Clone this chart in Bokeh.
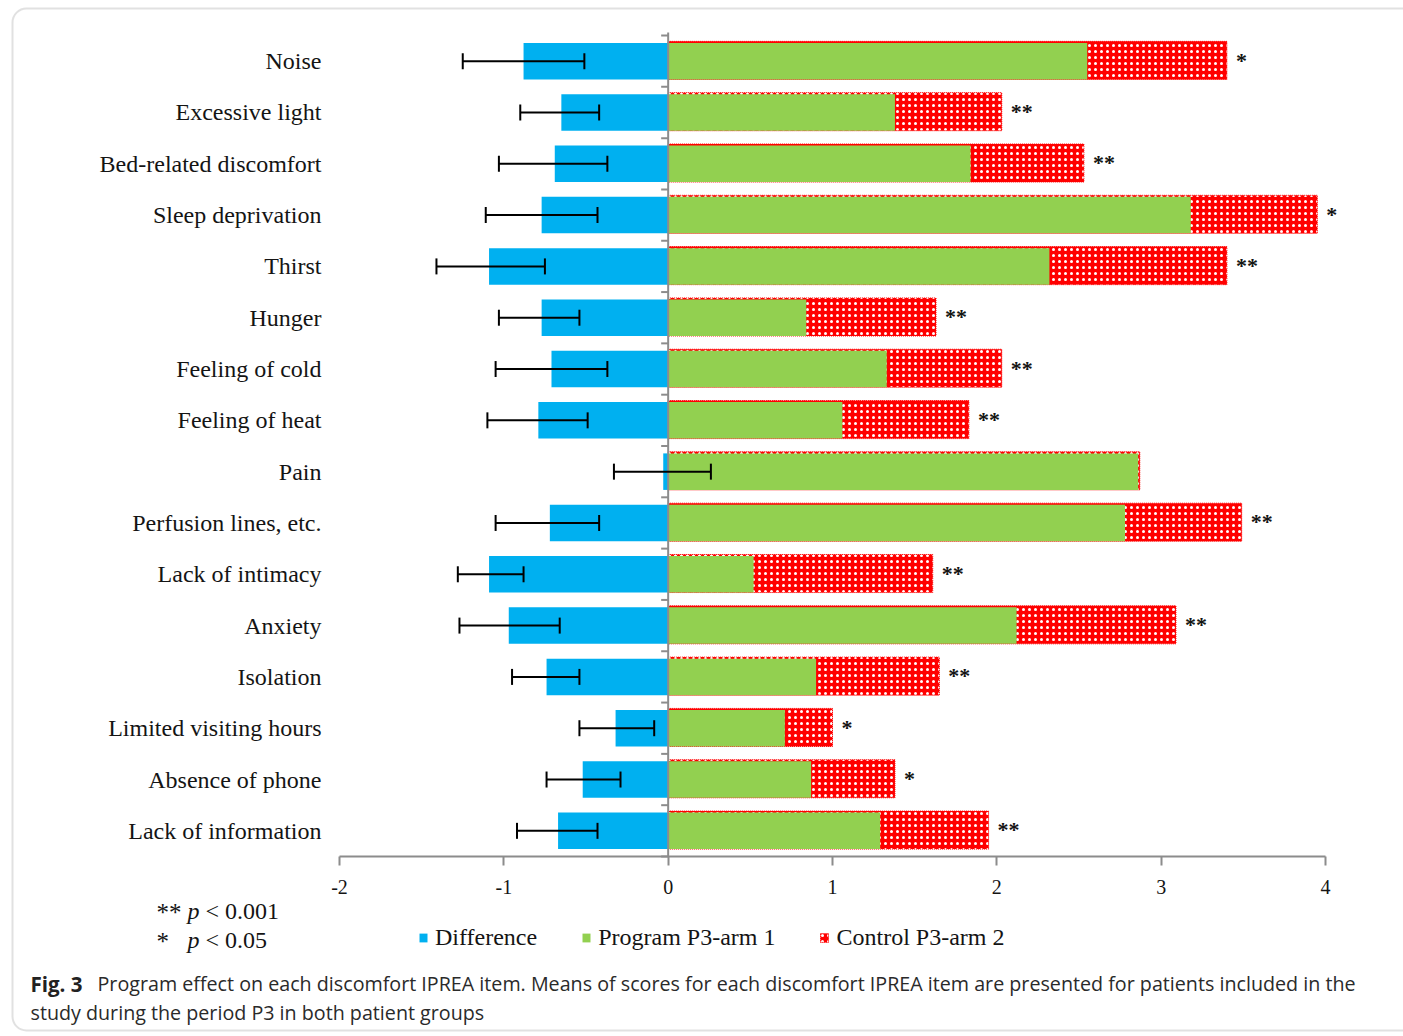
from bokeh.plotting import figure
from bokeh.models import (ColumnDataSource, Range1d, FixedTicker, LinearAxis,
                          Whisker, TeeHead, Legend, LegendItem, Label, BoxAnnotation)
from bokeh.core.properties import value
from bokeh.embed import file_html
from bokeh.resources import INLINE

# IPREA discomfort items, top to bottom
items = ["Noise", "Excessive light", "Bed-related discomfort", "Sleep deprivation",
         "Thirst", "Hunger", "Feeling of cold", "Feeling of heat", "Pain",
         "Perfusion lines, etc.", "Lack of intimacy", "Anxiety", "Isolation",
         "Limited visiting hours", "Absence of phone", "Lack of information"]

# mean scores, period P3
program = [2.55, 1.38, 1.84, 3.18, 2.32, 0.84, 1.33, 1.06, 2.86, 2.78,
           0.52, 2.12, 0.90, 0.71, 0.87, 1.29]
control = [3.40, 2.03, 2.53, 3.95, 3.40, 1.63, 2.03, 1.83, 2.87, 3.49,
           1.61, 3.09, 1.65, 1.00, 1.38, 1.95]
difference = [-0.88, -0.65, -0.69, -0.77, -1.09, -0.77, -0.71, -0.79, -0.03, -0.72,
              -1.09, -0.97, -0.74, -0.32, -0.52, -0.67]
ci_low = [-1.25, -0.90, -1.03, -1.11, -1.41, -1.03, -1.05, -1.10, -0.33, -1.05,
          -1.28, -1.27, -0.95, -0.54, -0.74, -0.92]
ci_high = [-0.51, -0.42, -0.37, -0.43, -0.75, -0.54, -0.37, -0.49, 0.26, -0.42,
           -0.88, -0.66, -0.54, -0.085, -0.29, -0.43]
significance = ["*", "**", "**", "*", "**", "**", "**", "**", "", "**",
                "**", "**", "**", "*", "*", "**"]

x_ticks = [-2, -1, 0, 1, 2, 3, 4]
x_tick_labels = {-2: "-2", -1: "-1", 0: "0", 1: "1", 2: "2", 3: "3", 4: "4"}

BLUE = "#00b0f0"
GREEN = "#92d050"
RED = "#ff0000"
GREY = "#8c8c8c"
SERIF = "Liberation Serif"
INK = "#141414"

W, H = 1403, 1036
n = len(items)
# one band per item, first item on top
row = [n - i - 0.5 for i in range(n)]

src = ColumnDataSource(dict(
    item=items, row=row, ctl_row=[r + 0.015 for r in row],
    program=program, control=control, difference=difference,
    lo=ci_low, hi=ci_high, sig=significance,
))

# plot frame fills the canvas; the axes are pinned inside it
PX_X = 986 / 6.0          # pixels per score unit
PX_Y = 821 / n            # pixels per item band
x_start = -2 - 339 / PX_X
x_end = 4 + (W - 1325) / PX_X
y_start = -(H - 856) / PX_Y
y_end = n + 35 / PX_Y

p = figure(width=W, height=H,
           x_range=Range1d(x_start, x_end), y_range=Range1d(y_start, y_end),
           x_axis_location=None, y_axis_location=None,
           output_backend="svg", toolbar_location=None, min_border=0,
           outline_line_color=None, background_fill_color="white",
           border_fill_color="white")
p.xgrid.visible = False
p.ygrid.visible = False

# control arm sits behind the program arm
r_ctl = p.hbar(y="ctl_row", left=0, right="control", height=0.742, source=src,
               fill_color=RED, hatch_pattern="dot", hatch_color="white",
               hatch_scale=6, hatch_weight=2.0,
               line_color=RED, line_dash="1 1", line_width=1)
r_prog = p.hbar(y="row", left=0, right="program", height=0.712, source=src,
                fill_color=GREEN, line_color=None)
r_diff = p.hbar(y="row", left=0, right="difference", height=0.712, source=src,
                fill_color=BLUE, line_color=None)

# zero line with short ticks between the bands
bounds = list(range(n + 1))
tick_len = 7 / PX_X
p.segment(x0=0, x1=0, y0=0, y1=n + 3 / PX_Y, line_color=GREY, line_width=2)
p.segment(x0=-tick_len, x1=0, y0=bounds, y1=bounds, line_color=GREY, line_width=2)

# error bars on the difference
p.add_layout(Whisker(base="row", lower="lo", upper="hi", dimension="width", source=src,
                     line_color="black", line_width=2, level="annotation",
                     lower_head=TeeHead(size=16, line_color="black", line_width=2),
                     upper_head=TeeHead(size=16, line_color="black", line_width=2)))

# significance markers
p.text(x="control", y="row", text="sig", source=src, x_offset=9, y_offset=-1,
       text_align="left", text_baseline="middle",
       text_font=value(SERIF), text_font_size="22px", text_color=INK,
       text_font_style="bold")

# score axis along the bottom of the bands
xa = LinearAxis(fixed_location=0, bounds=(-2, 4), ticker=FixedTicker(ticks=x_ticks),
                major_label_overrides=x_tick_labels,
                axis_line_color=GREY, axis_line_width=2,
                major_tick_line_color=GREY, major_tick_line_width=2,
                major_tick_in=0, major_tick_out=9, minor_tick_line_color=None,
                major_label_standoff=14, major_label_text_font=SERIF,
                major_label_text_font_size="20px", major_label_text_color=INK)
p.add_layout(xa, "below")

# item names
ya = LinearAxis(fixed_location=-2 - 9 / PX_X, ticker=FixedTicker(ticks=row),
                major_label_overrides={r: name for r, name in zip(row, items)},
                axis_line_color=None, major_tick_line_color=None,
                minor_tick_line_color=None, major_tick_in=0, major_tick_out=0,
                major_label_standoff=9, major_label_text_font=SERIF,
                major_label_text_font_size="24px", major_label_text_color=INK)
p.add_layout(ya, "left")

# legend under the axis
legend = Legend(items=[LegendItem(label="Difference", renderers=[r_diff]),
                       LegendItem(label="Program P3-arm 1", renderers=[r_prog]),
                       LegendItem(label="Control P3-arm 2", renderers=[r_ctl])],
                orientation="horizontal", location=(418, H - 951),
                glyph_width=10, glyph_height=11, label_standoff=7, spacing=44,
                padding=0, margin=0, border_line_color=None,
                background_fill_color=None,
                label_text_font=SERIF, label_text_font_size="24px",
                label_text_color=INK)
p.add_layout(legend)


def put(text, X, Y, size="20px", font=SERIF, style="normal", color=INK):
    p.add_layout(Label(x=X, y=H - Y, x_units="screen", y_units="screen",
                       text=text, text_font=font, text_font_size=size,
                       text_font_style=style, text_color=color,
                       text_baseline="alphabetic", text_align="left"))


# p-value key
put("**", 156, 912, size="25px")
put("p", 187, 910, size="24px", style="italic")
put("< 0.001", 205, 910, size="24px")
put("*", 156, 941, size="25px")
put("p", 187, 939, size="24px", style="italic")
put("< 0.05", 205, 939, size="24px")

# caption
CAP = "Open Sans"
put("Fig. 3", 30, 983, size="20.5px", font=CAP, style="bold", color="#222222")
put("Program effect on each discomfort IPREA item. Means of scores for each discomfort "
    "IPREA item are presented for patients included in the",
    97, 983, size="19.7px", font=CAP, color="#2a2a2a")
put("study during the period P3 in both patient groups", 30, 1012, size="19.7px",
    font=CAP, color="#2a2a2a")

# rounded panel border
p.add_layout(BoxAnnotation(left=12, right=W + 20, top=H - 8, bottom=H - 1030,
                           left_units="screen", right_units="screen",
                           top_units="screen", bottom_units="screen",
                           fill_color=None, line_color="#9a9a9a", line_width=2,
                           border_radius=14, level="overlay"))

open("out.html", "w").write(file_html(p, INLINE))
